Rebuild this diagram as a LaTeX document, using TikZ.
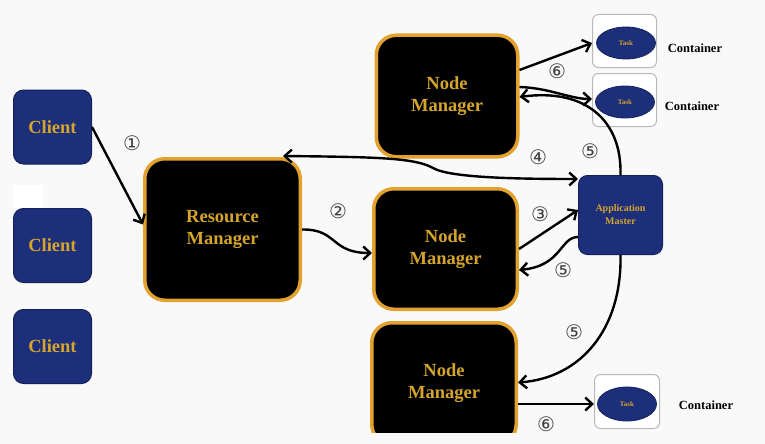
\documentclass[tikz,border=0pt]{standalone}
\usepackage{fontspec}
\setmainfont{Liberation Serif}
\newfontfamily\symfont{DejaVu Sans}
\usetikzlibrary{arrows.meta,shapes.geometric}
\definecolor{navy}{HTML}{1D2F7A}
\definecolor{navyedge}{HTML}{14215A}
\definecolor{gold}{HTML}{D4A52A}
\definecolor{mgrorange}{HTML}{E3A22E}
\definecolor{bg}{HTML}{F9F9F9}
\tikzset{
  client/.style={rectangle, rounded corners=10pt, fill=navy, draw=navyedge, line width=1pt,
    minimum width=78pt, minimum height=74pt, text=gold,
    font=\fontsize{18.5}{21}\selectfont\bfseries},
  mgr/.style={rectangle, rounded corners=20pt, fill=black, draw=mgrorange, line width=3.5pt,
    text=gold, align=center, font=\fontsize{18.5}{22}\selectfont\bfseries},
  amaster/.style={rectangle, rounded corners=9pt, fill=navy, draw=navyedge, line width=1pt,
    minimum width=84pt, minimum height=79pt, text=gold, align=center,
    font=\fontsize{10}{13}\selectfont\bfseries},
  cont/.style={rectangle, rounded corners=6pt, draw=gray!55, line width=1pt, fill=white},
  task/.style={ellipse, fill=navy, draw=navyedge, line width=0.8pt, minimum width=59pt,
    minimum height=32pt, inner sep=0pt, text=gold, font=\fontsize{7}{8}\selectfont\bfseries},
  clabel/.style={font=\fontsize{12.5}{14}\selectfont\bfseries, text=black},
  num/.style={font=\symfont\fontsize{20}{20}\selectfont, text=gray!50!black},
  arr/.style={draw=black, line width=2.4pt, -{Straight Barb[length=7pt,width=13pt]}},
  arrtwo/.style={draw=black, line width=2.4pt, {Straight Barb[length=7pt,width=13pt]}-{Straight Barb[length=7pt,width=13pt]}}
}
\begin{document}
\begin{tikzpicture}[x=1pt,y=-1pt]
\fill[bg] (0,0) rectangle (765,444);
\useasboundingbox (0,0) rectangle (765,444);
\fill[white] (13,185) rectangle (43,208);

% clients
\node[client] (cl1) at (52.5,127) {Client};
\node[client] (cl2) at (52.5,245.5) {Client};
\node[client] (cl3) at (52.5,346.5) {Client};

% managers
\node[mgr, minimum width=155.5pt, minimum height=141.5pt] (rm) at (222.5,229.5) {Resource\\Manager};
\node[mgr, minimum width=141.5pt, minimum height=121.5pt] (nm1) at (447,96) {Node\\Manager};
\node[mgr, minimum width=143.5pt, minimum height=120.5pt] (nm2) at (445.5,249) {Node\\Manager};
\begin{scope}
\clip (0,0) rectangle (765,432);
\node[mgr, minimum width=144.5pt, minimum height=121.5pt] (nm3) at (444,383.5) {Node\\Manager};
\end{scope}

% application master
\node[amaster] (am) at (620.5,215) {Application\\Master};

% containers
\node[cont, minimum width=64pt, minimum height=53pt] (k1) at (624.5,41) {};
\node[cont, minimum width=64pt, minimum height=53pt] (k2) at (624.5,100) {};
\node[cont, minimum width=65pt, minimum height=54pt] (k3) at (627,401.5) {};
\node[task] (t1) at (626,43) {Task};
\node[task] (t2) at (625,102) {Task};
\node[task, minimum height=34pt] (t3) at (627,404) {Task};
\node[clabel] (l1) at (695,48) {Container};
\node[clabel] (l2) at (692,106) {Container};
\node[clabel] (l3) at (706,405) {Container};

% connectors
\draw[arr] (cl1.east) -- ([yshift=5pt]rm.west);
\draw[arr] (rm.east) .. controls (338,229) and (330,253) .. ([yshift=-4pt]nm2.west);
\draw[arrtwo] ([xshift=-19pt,yshift=1pt]rm.north east) .. controls (380,157) and (415,158) .. (433,168)
  .. controls (450,178) and (520,179) .. ([yshift=-4pt]am.north west);
\draw[arr] (nm2.east) -- ([yshift=5pt]am.west);
\draw[arr] ([yshift=-22pt]am.west) .. controls (560,237) and (562,266) .. ([yshift=-21pt]nm2.east);
\draw[arr] (am.north) .. controls (622,120) and (585,88) .. ([yshift=-1pt]nm1.east);
\draw[arr] (am.south) .. controls (622,330) and (580,378) .. ([yshift=1pt]nm3.east);
\draw[arr] ([yshift=26pt]nm1.east) -- ([yshift=-2pt]k1.west);
\draw[arr] ([yshift=9pt]nm1.east) .. controls (550,88) and (570,99) .. ([yshift=1pt]k2.west);
\draw[arr] ([yshift=-20.5pt]nm3.east) -- ([yshift=-2.5pt]k3.west);

% step numbers
\node[num] (n1) at (132,143) {①};
\node[num] (n2) at (338,211) {②};
\node[num] (n3) at (540,214) {③};
\node[num] (n4) at (538,157) {④};
\node[num] (n5a) at (590,151) {⑤};
\node[num] (n5b) at (563,270) {⑤};
\node[num] (n5c) at (574,332) {⑤};
\node[num] (n6a) at (557,71) {⑥};
\node[num] (n6b) at (546,424) {⑥};
\end{tikzpicture}
\end{document}
